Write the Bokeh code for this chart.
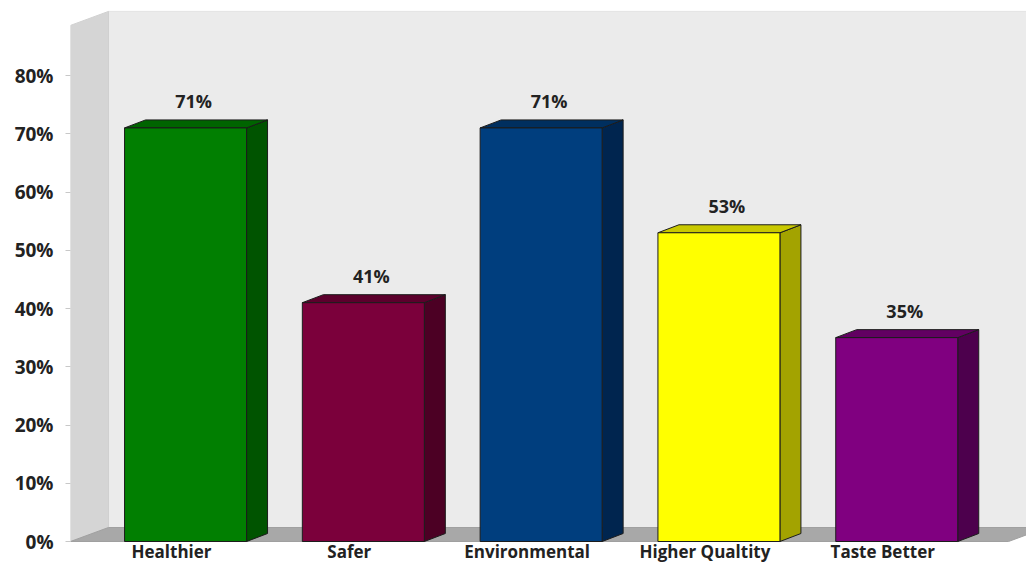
from bokeh.plotting import figure
from bokeh.models import Range1d, FixedTicker, PrintfTickFormatter, ColumnDataSource
from bokeh.core.properties import value
from bokeh.embed import file_html
from bokeh.resources import INLINE

# ---- data ----
categories = ["Healthier", "Safer", "Environmental", "Higher Qualtity", "Taste Better"]
values = [71, 41, 71, 53, 35]
value_labels = ["71%", "41%", "71%", "53%", "35%"]
y_ticks = [0, 10, 20, 30, 40, 50, 60, 70, 80]

front_colors = ["#017f01", "#7b003b", "#003e7e", "#ffff00", "#800080"]
side_colors = ["#005400", "#4c0024", "#00254f", "#a3a300", "#4d004d"]
top_colors = ["#006400", "#5c002c", "#002f5f", "#c9c900", "#620062"]

# ---- geometry / style constants ----
PX_X = 177.8          # pixels per category slot
PX_Y = 5.825          # pixels per percentage point
BAR_W = 122 / PX_X
DX = 21 / PX_X        # bar depth (x)
DY = 8 / PX_Y         # bar depth (y)
WDX = 38 / PX_X       # wall/floor depth (x)
WDY = 14 / PX_Y       # wall/floor depth (y)
X0 = -0.147
X1 = X0 + 956 / PX_X
Y0 = -22 / PX_Y
Y1 = 541 / PX_Y
WALL_TOP = 88.6
LABEL_SHIFT = -14 / PX_X

p = figure(width=1026, height=563, output_backend="svg", toolbar_location=None,
           x_range=Range1d(X0, X1), y_range=Range1d(Y0, Y1), x_axis_location=None,
           min_border_left=70, min_border_right=0, min_border_top=0, min_border_bottom=0)
p.outline_line_color = None
p.background_fill_color = "white"
p.border_fill_color = "white"
p.xgrid.visible = False
p.ygrid.visible = False

# back wall
p.patch([X0 + WDX, X1 + 1, X1 + 1, X0 + WDX],
        [WDY, WDY, WALL_TOP + WDY, WALL_TOP + WDY],
        fill_color="#ebebeb", line_color="#e4e4e4", line_width=1)
# left wall
p.patch([X0, X0 + WDX, X0 + WDX, X0],
        [0, WDY, WALL_TOP + WDY, WALL_TOP],
        fill_color="#d5d5d5", line_color="#d0d0d0", line_width=1)
# floor
floor_right = X0 + 938 / PX_X
p.patch([X0, floor_right, floor_right + WDX, X0 + WDX],
        [0, 0, WDY, WDY],
        fill_color="#a8a8a8", line_color="#a0a0a0", line_width=1)

xs_c = [i + 0.5 for i in range(len(categories))]

side_xs, side_ys, top_xs, top_ys = [], [], [], []
for xc, v in zip(xs_c, values):
    r = xc + BAR_W / 2
    l = xc - BAR_W / 2
    side_xs.append([r, r + DX, r + DX, r])
    side_ys.append([0, DY, v + DY, v])
    top_xs.append([l, l + DX, r + DX, r])
    top_ys.append([v, v + DY, v + DY, v])

p.patches(side_xs, side_ys, fill_color=side_colors, line_color="#1c1c1c", line_width=1)
p.patches(top_xs, top_ys, fill_color=top_colors, line_color="#1c1c1c", line_width=1)
p.vbar(x=xs_c, width=BAR_W, top=values, bottom=0, fill_color=front_colors,
       line_color="#1c1c1c", line_width=1)

lab_src = ColumnDataSource(dict(x=[xc + 8 / PX_X for xc in xs_c],
                                y=[v + 4.6 for v in values], t=value_labels))
p.text(x="x", y="y", text="t", source=lab_src, text_align="center", text_baseline="middle",
       text_font=value("Open Sans"), text_font_style="bold", text_font_size="18px",
       text_color="#222222")

cat_src = ColumnDataSource(dict(x=[xc + LABEL_SHIFT for xc in xs_c],
                                y=[-9.5 / PX_Y] * len(categories), t=categories))
p.text(x="x", y="y", text="t", source=cat_src, text_align="center", text_baseline="middle",
       text_font=value("Open Sans"), text_font_style="bold", text_font_size="17px",
       text_color="#222222")

# y axis
p.yaxis.ticker = FixedTicker(ticks=y_ticks)
p.yaxis.formatter = PrintfTickFormatter(format="%d%%")
p.yaxis.axis_line_color = None
p.yaxis.major_tick_line_color = "#c8c8c8"
p.yaxis.major_tick_out = 5
p.yaxis.major_tick_in = 0
p.yaxis.minor_tick_line_color = None
p.yaxis.major_label_standoff = 12
p.yaxis.major_label_text_font = "Open Sans"
p.yaxis.major_label_text_font_style = "bold"
p.yaxis.major_label_text_font_size = "19px"
p.yaxis.major_label_text_color = "#222222"

open("out.html", "w").write(file_html(p, INLINE))
